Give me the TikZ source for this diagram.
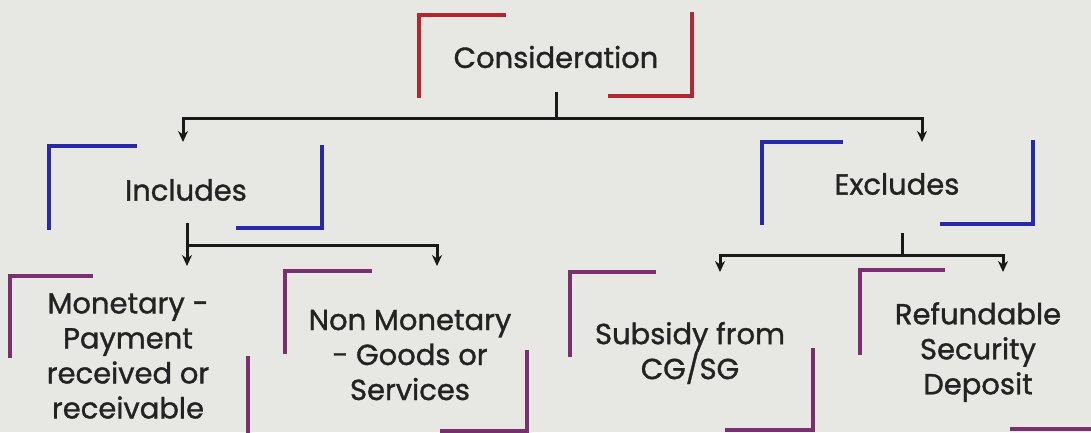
\documentclass[tikz,border=0pt]{standalone}
\usepackage{fontspec}
\setmainfont{Poppins}[FakeBold=1.2]
\usetikzlibrary{arrows.meta}
\definecolor{bg}{RGB}{231,231,227}
\definecolor{redb}{RGB}{178,40,48}
\definecolor{blueb}{RGB}{40,40,170}
\definecolor{purpb}{RGB}{122,48,110}
\definecolor{txt}{RGB}{35,35,35}
\tikzset{
  lbl/.style={text=txt, font=\fontsize{29}{35}\selectfont, align=center, inner sep=0pt},
  brk/.style={line width=4pt, line cap=butt},
  conn/.style={line width=3pt, black!90},
  arr/.style={conn, -{Stealth[length=11pt,width=10pt]}}
}
\begin{document}
\begin{tikzpicture}[x=1pt,y=-1pt]
\fill[bg] (0,0) rectangle (1091,432);
\useasboundingbox (0,0) rectangle (1091,432);

% Consideration
\node[lbl] (cons) at (556,57) {Consideration};
\draw[brk,redb] (506,15) -- (419,15) -- (419,98);
\draw[brk,redb] (692,12) -- (692,96) -- (608,96);

% Includes
\node[lbl] (inc) at (186,190) {Includes};
\draw[brk,blueb] (137,146) -- (49,146) -- (49,230);
\draw[brk,blueb] (322,145) -- (322,228) -- (236,228);

% Excludes
\node[lbl] (exc) at (897,184) {Excludes};
\draw[brk,blueb] (843,142) -- (762,142) -- (762,225);
\draw[brk,blueb] (1033,140) -- (1033,224) -- (940,224);

% Monetary
\node[lbl] (mon) at (128,356) {Monetary -\\Payment\\received or\\receivable};
\draw[brk,purpb] (93,276) -- (10,276) -- (10,358);
\draw[brk,purpb] (248,356) -- (248,440);

% Non Monetary
\node[lbl] (nmon) at (410,355) {Non Monetary\\- Goods or\\Services};
\draw[brk,purpb] (372,271) -- (285,271) -- (285,354);
\draw[brk,purpb] (527,350) -- (527,431) -- (440,431);

% Subsidy
\node[lbl] (sub) at (690,353) {Subsidy from\\CG/SG};
\draw[brk,purpb] (656,272) -- (570,272) -- (570,357);
\draw[brk,purpb] (813,348) -- (813,430) -- (725,430);

% Refundable
\node[lbl] (ref) at (978,352) {Refundable\\Security\\Deposit};
\draw[brk,purpb] (945,270) -- (860,270) -- (860,355);
\draw[brk,purpb] (1010,429) -- (1095,429);

% connectors
\coordinate (consstem) at (556,92);
\coordinate (consj) at (556,118);
\coordinate (incin) at (183,142);
\coordinate (excin) at (922,142);
\draw[conn] (consstem) -- (consj);
\draw[arr] (consj) -| (incin);
\draw[arr] (consj) -| (excin);

\coordinate (incstem) at (187,223);
\coordinate (incj) at (187,245);
\coordinate (monin) at (187,266);
\coordinate (nmonin) at (437,266);
\draw[arr] (incstem) -- (monin);
\draw[arr] (incj) -| (nmonin);

\coordinate (excstem) at (902,233);
\coordinate (excj) at (902,255);
\coordinate (subin) at (720,272);
\coordinate (refin) at (1003,272);
\draw[conn] (excstem) -- (excj);
\draw[arr] (excj) -| (subin);
\draw[arr] (excj) -| (refin);
\end{tikzpicture}
\end{document}
